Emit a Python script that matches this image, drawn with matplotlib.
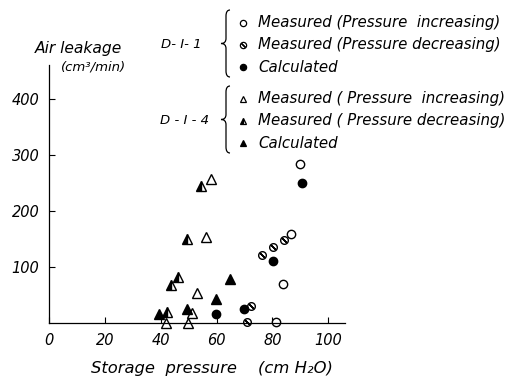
import numpy as np
import matplotlib
matplotlib.use("Agg")
import matplotlib.pyplot as plt
from matplotlib.path import Path
from matplotlib.patches import PathPatch
from matplotlib.lines import Line2D

# D-I-1 : storage pressure (cmH2O) vs air leakage (cm3/min)
d1_inc_x = [89.8, 86.6, 83.8, 81.3]
d1_inc_y = [284, 159, 70, 2]
d1_dec_x = [84.1, 80.2, 76.3, 72.3, 70.9]
d1_dec_y = [148, 136, 121, 30, 2]
d1_calc_x = [90.5, 80.2, 69.8, 59.8]
d1_calc_y = [250, 111, 25, 16]

# D-I-4
d4_inc_x = [58.0, 56.2, 53.0, 51.3, 42.0, 49.8]
d4_inc_y = [257, 154, 54, 18, 0, 0]
d4_dec_x = [54.5, 49.5, 46.3, 43.8, 42.3]
d4_dec_y = [245, 150, 82, 68, 20]
d4_calc_x = [64.8, 59.8, 39.5, 49.5]
d4_calc_y = [79, 43, 16, 25]

xticks = [0, 20, 40, 60, 80, 100]
yticks = [100, 200, 300, 400]

W, H = 511, 378
fig = plt.figure(figsize=(W / 100, H / 100), dpi=100)
ax = fig.add_axes([49 / W, 1 - 323 / H, (345 - 49) / W, (323 - 65) / H])
ax.set_xlim(0, 106)
ax.set_ylim(0, 461)
for s in ["top", "right"]:
    ax.spines[s].set_visible(False)
for s in ["left", "bottom"]:
    ax.spines[s].set_linewidth(0.9)

fs = 10.5
ax.set_xticks(xticks)
ax.set_xticklabels([str(t) for t in xticks], fontstyle="italic", fontsize=fs)
ax.set_yticks(yticks)
ax.set_yticklabels([str(t) for t in yticks], fontstyle="italic", fontsize=fs)
ax.tick_params(direction="in", length=4, width=0.8, pad=7)

ms = 5.5
def hatched_circle(x, y):
    ax.plot(x, y, "o", ms=ms, mfc="white", mec="black", mew=1.0, ls="none", clip_on=False)
    ax.plot(x, y, marker=(2, 2, 45), ms=ms * 0.9, color="black", mew=1.0, ls="none", clip_on=False)

ax.plot(d1_inc_x, d1_inc_y, "o", ms=ms + 0.5, mfc="white", mec="black", mew=1.0, ls="none", clip_on=False)
hatched_circle(d1_dec_x, d1_dec_y)
ax.plot(d1_calc_x, d1_calc_y, "o", ms=ms + 0.5, color="black", ls="none", clip_on=False)

tms = 6.5
ax.plot(d4_inc_x, d4_inc_y, "^", ms=tms, mfc="white", mec="black", mew=1.0, ls="none", clip_on=False)
ax.plot(d4_dec_x, d4_dec_y, "^", ms=tms, mfc="black", mfcalt="white", fillstyle="left",
        mec="black", mew=1.0, ls="none", clip_on=False)
ax.plot(d4_calc_x, d4_calc_y, "^", ms=tms, color="black", ls="none", clip_on=False)

# axis titles
fig.text(78 / W, 1 - 49 / H, "Air leakage", ha="center", va="center", fontstyle="italic", fontsize=11.2)
fig.text(94 / W, 1 - 67 / H, "(cm³/min)", ha="center", va="center", fontstyle="italic", fontsize=9.5)
fig.text(212 / W, 1 - 369 / H, "Storage  pressure    (cm H₂O)", ha="center", va="center",
         fontstyle="italic", fontsize=11.8)

# legend drawn by hand with braces
def brace(xs, top, bot):
    mid = (top + bot) / 2
    pts = [(xs + 4, top), (xs, top), (xs, top + 6), (xs, mid - 5), (xs, mid), (xs - 5, mid),
           (xs, mid), (xs, mid + 5), (xs, bot - 6), (xs, bot), (xs + 4, bot)]
    codes = [Path.MOVETO, Path.CURVE3, Path.CURVE3, Path.LINETO, Path.CURVE3, Path.CURVE3,
             Path.CURVE3, Path.CURVE3, Path.LINETO, Path.CURVE3, Path.CURVE3]
    pts = [(x / W, 1 - y / H) for x, y in pts]
    fig.add_artist(PathPatch(Path(pts, codes), transform=fig.transFigure, fill=False, lw=0.9))

groups = [
    ("D- I- 1", 181, [23, 45, 67],
     [dict(marker="o", ms=ms - 1, mfc="white", mec="black"),
      dict(marker="o", ms=ms - 1, mfc="white", mec="black", hatch=True),
      dict(marker="o", ms=ms - 1, mfc="black", mec="black")],
     ["Measured (Pressure  increasing)", "Measured (Pressure decreasing)", "Calculated"]),
    ("D - I - 4", 184, [99, 121, 143],
     [dict(marker="^", ms=tms - 1.5, mfc="white", mec="black"),
      dict(marker="^", ms=tms - 1.5, mfc="black", mfcalt="white", fillstyle="left", mec="black"),
      dict(marker="^", ms=tms - 1.5, mfc="black", mec="black")],
     ["Measured ( Pressure  increasing)", "Measured ( Pressure decreasing)", "Calculated"]),
]
for name, nx, rows, styles, labels in groups:
    fig.text(nx / W, 1 - rows[1] / H, name, ha="center", va="center", fontstyle="italic", fontsize=9.5)
    brace(226, rows[0] - 13, rows[2] + 10)
    for yy, st, lab in zip(rows, styles, labels):
        st = dict(st)
        hatch = st.pop("hatch", False)
        fig.add_artist(Line2D([243 / W], [1 - yy / H], transform=fig.transFigure, mew=0.9, ls="none", **st))
        if hatch:
            fig.add_artist(Line2D([243 / W], [1 - yy / H], transform=fig.transFigure, marker=(2, 2, 45),
                                  ms=ms - 1.5, color="black", mew=0.9, ls="none"))
        fig.text(258 / W, 1 - yy / H, lab, ha="left", va="center", fontstyle="italic", fontsize=10.8)

fig.savefig("out.png", dpi=100)
